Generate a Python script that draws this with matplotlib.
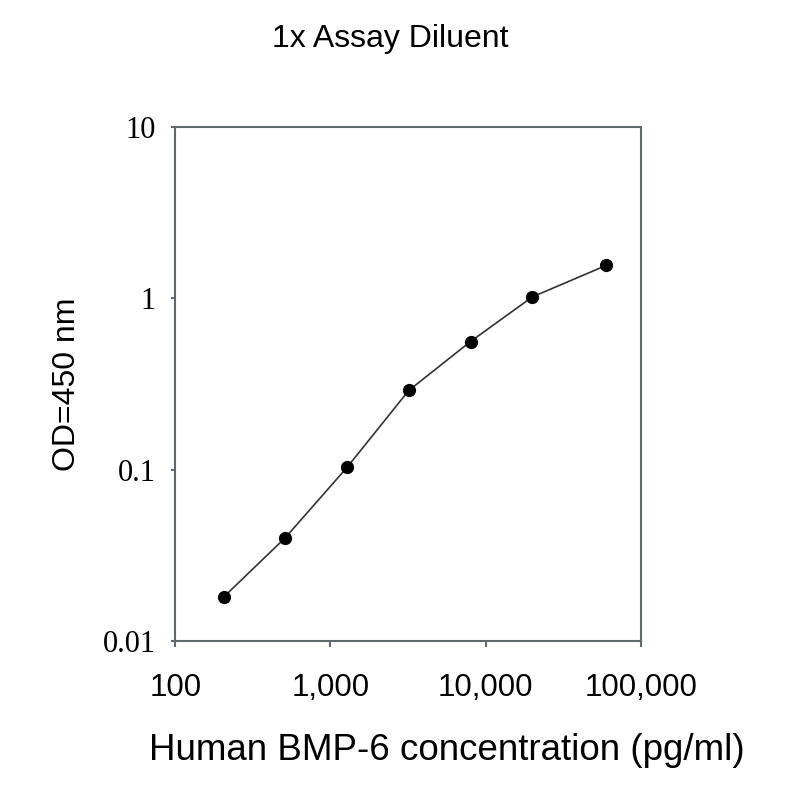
import numpy as np
import matplotlib
matplotlib.use("Agg")
import matplotlib.pyplot as plt
from matplotlib.ticker import FixedLocator, NullLocator

# standard curve
conc = [205, 512, 1280, 3200, 8000, 20000, 60000]
od = [0.018, 0.040, 0.103, 0.29, 0.56, 1.02, 1.56]

x_ticks = [100, 1000, 10000, 100000]
x_labels = ['100', '1,000', '10,000', '100,000']
y_ticks = [0.01, 0.1, 1, 10]
y_labels = ['0.01', '0.1', '1', '10']

fig = plt.figure(figsize=(8, 8), dpi=100)
ax = fig.add_axes([0.219, 0.199, 0.582, 0.642])

ax.plot(conc, od, color='#333333', lw=1.2, marker='o', ms=8.5,
        mfc='black', mec='black')
ax.set_xscale('log')
ax.set_yscale('log')
ax.set_xlim(100, 100000)
ax.set_ylim(0.01, 10)

ax.xaxis.set_major_locator(FixedLocator(x_ticks))
ax.xaxis.set_minor_locator(NullLocator())
ax.yaxis.set_major_locator(FixedLocator(y_ticks))
ax.yaxis.set_minor_locator(NullLocator())
ax.set_xticklabels(x_labels, family='Liberation Sans', fontsize=22.5)
ax.set_yticklabels(y_labels, family='Liberation Serif', fontsize=22)
ax.tick_params(direction='out', color='#5f6b6b', width=1.5)
ax.tick_params(axis='y', length=3, pad=11)
ax.tick_params(axis='x', length=4, pad=19)

for s in ax.spines.values():
    s.set_color('#5f6b6b')
    s.set_linewidth(1.5)

fig.text(0.488, 0.951, '1x Assay Diluent', ha='center', va='center',
         family='Liberation Sans', fontsize=23)
ax.set_xlabel('Human BMP-6 concentration (pg/ml)', family='Liberation Sans',
              fontsize=26.5, labelpad=22)
ax.xaxis.label.set_x(0.584)
ax.set_ylabel('OD=450 nm', family='Liberation Sans', fontsize=23, labelpad=15)

fig.savefig('out.png', dpi=100)
